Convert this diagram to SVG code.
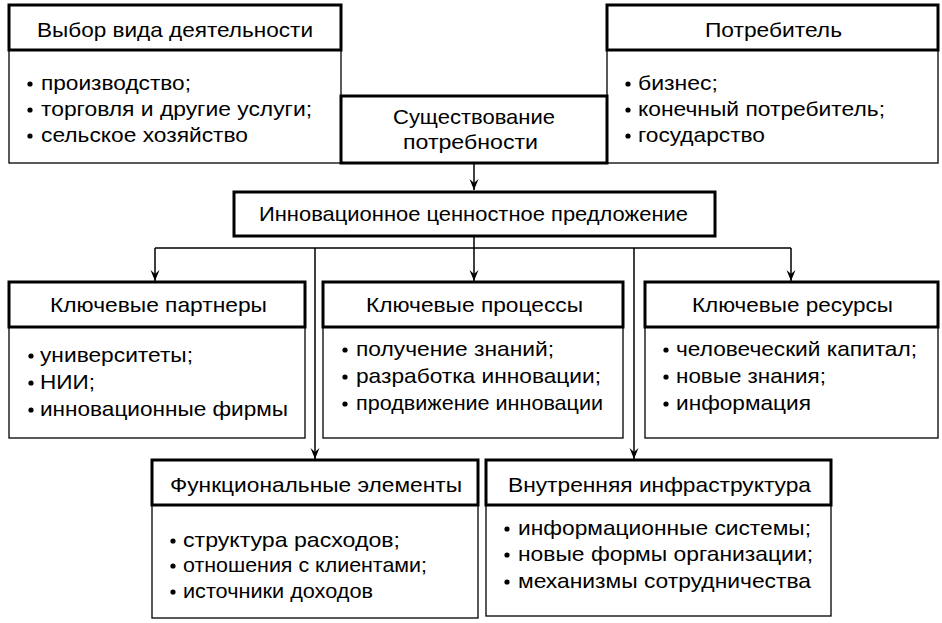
<svg xmlns="http://www.w3.org/2000/svg" width="942" height="623" viewBox="0 0 942 623">
<defs>
<style>
.hd{fill:#fff;stroke:#000;stroke-width:3}
.bd{fill:#fff;stroke:#000;stroke-width:1.3}
.t{font-family:"Liberation Sans",Arial,sans-serif;font-size:21px;fill:#000}
.ln{fill:none;stroke:#000;stroke-width:1.5}
.dot{fill:#000}
</style>
<marker id="ar" markerWidth="12" markerHeight="10" refX="11" refY="5" orient="auto" markerUnits="userSpaceOnUse" viewBox="0 0 12 10">
<path d="M0,0.5 L11,5 L0,9.5 L4,5 Z" fill="#000"/>
</marker>
</defs>
<rect width="942" height="623" fill="#fff"/>

<g id="connectors">
<path class="ln" d="M474,163 V190" marker-end="url(#ar)"/>
<path class="ln" d="M474,237 V248 M155,248 H791"/>
<path class="ln" d="M155,248 V281" marker-end="url(#ar)"/>
<path class="ln" d="M474,248 V281" marker-end="url(#ar)"/>
<path class="ln" d="M791,248 V281" marker-end="url(#ar)"/>
<path class="ln" d="M315,248 V459" marker-end="url(#ar)"/>
<path class="ln" d="M634,248 V459" marker-end="url(#ar)"/>
</g>

<g id="vybor">
<rect class="bd" x="9" y="50" width="332" height="113"/>
<rect class="hd" x="9" y="5" width="332" height="45"/>
<text class="t" x="37" y="37" textLength="276" lengthAdjust="spacingAndGlyphs">Выбор вида деятельности</text>
<circle class="dot" cx="30" cy="84" r="2.6"/><text class="t" x="41" y="90" textLength="150" lengthAdjust="spacingAndGlyphs">производство;</text>
<circle class="dot" cx="30" cy="110" r="2.6"/><text class="t" x="41" y="116" textLength="271" lengthAdjust="spacingAndGlyphs">торговля и другие услуги;</text>
<circle class="dot" cx="30" cy="136" r="2.6"/><text class="t" x="41" y="142" textLength="207" lengthAdjust="spacingAndGlyphs">сельское хозяйство</text>
</g>

<g id="potrebitel">
<rect class="bd" x="607" y="50" width="331" height="113"/>
<rect class="hd" x="607" y="5" width="331" height="45"/>
<text class="t" x="705" y="37" textLength="137" lengthAdjust="spacingAndGlyphs">Потребитель</text>
<circle class="dot" cx="628" cy="84" r="2.6"/><text class="t" x="638" y="90" textLength="80" lengthAdjust="spacingAndGlyphs">бизнес;</text>
<circle class="dot" cx="628" cy="110" r="2.6"/><text class="t" x="638" y="116" textLength="247" lengthAdjust="spacingAndGlyphs">конечный потребитель;</text>
<circle class="dot" cx="628" cy="136" r="2.6"/><text class="t" x="638" y="142" textLength="127" lengthAdjust="spacingAndGlyphs">государство</text>
</g>

<g id="sushchestvovanie">
<rect class="hd" x="341" y="96" width="266" height="67"/>
<text class="t" x="393" y="124" textLength="162" lengthAdjust="spacingAndGlyphs">Существование</text>
<text class="t" x="403" y="149" textLength="135" lengthAdjust="spacingAndGlyphs">потребности</text>
</g>

<g id="innovacionnoe">
<rect class="hd" x="234" y="192" width="481" height="44"/>
<text class="t" x="259" y="221" textLength="429" lengthAdjust="spacingAndGlyphs">Инновационное ценностное предложение</text>
</g>

<g id="partnery">
<rect class="bd" x="9" y="327" width="296" height="111"/>
<rect class="hd" x="9" y="282" width="296" height="45"/>
<text class="t" x="50" y="312" textLength="217" lengthAdjust="spacingAndGlyphs">Ключевые партнеры</text>
<circle class="dot" cx="31" cy="356" r="2.6"/><text class="t" x="40" y="362" textLength="153" lengthAdjust="spacingAndGlyphs">университеты;</text>
<circle class="dot" cx="31" cy="383" r="2.6"/><text class="t" x="40" y="389" textLength="55" lengthAdjust="spacingAndGlyphs">НИИ;</text>
<circle class="dot" cx="31" cy="410" r="2.6"/><text class="t" x="40" y="416" textLength="248" lengthAdjust="spacingAndGlyphs">инновационные фирмы</text>
</g>

<g id="processy">
<rect class="bd" x="323" y="327" width="300" height="111"/>
<rect class="hd" x="323" y="282" width="300" height="45"/>
<text class="t" x="366" y="312" textLength="217" lengthAdjust="spacingAndGlyphs">Ключевые процессы</text>
<circle class="dot" cx="345" cy="350" r="2.6"/><text class="t" x="356" y="356" textLength="198" lengthAdjust="spacingAndGlyphs">получение знаний;</text>
<circle class="dot" cx="345" cy="377" r="2.6"/><text class="t" x="356" y="383" textLength="245" lengthAdjust="spacingAndGlyphs">разработка инновации;</text>
<circle class="dot" cx="345" cy="404" r="2.6"/><text class="t" x="356" y="410" textLength="247" lengthAdjust="spacingAndGlyphs">продвижение инновации</text>
</g>

<g id="resursy">
<rect class="bd" x="645" y="327" width="293" height="111"/>
<rect class="hd" x="645" y="282" width="293" height="45"/>
<text class="t" x="692" y="312" textLength="201" lengthAdjust="spacingAndGlyphs">Ключевые ресурсы</text>
<circle class="dot" cx="666" cy="350" r="2.6"/><text class="t" x="676" y="356" textLength="241" lengthAdjust="spacingAndGlyphs">человеческий капитал;</text>
<circle class="dot" cx="666" cy="377" r="2.6"/><text class="t" x="676" y="383" textLength="150" lengthAdjust="spacingAndGlyphs">новые знания;</text>
<circle class="dot" cx="666" cy="404" r="2.6"/><text class="t" x="676" y="410" textLength="135" lengthAdjust="spacingAndGlyphs">информация</text>
</g>

<g id="funkcionalnye">
<rect class="bd" x="152" y="505" width="326" height="113"/>
<rect class="hd" x="152" y="460" width="326" height="45"/>
<text class="t" x="170" y="492" textLength="292" lengthAdjust="spacingAndGlyphs">Функциональные элементы</text>
<circle class="dot" cx="173" cy="541" r="2.6"/><text class="t" x="183" y="547" textLength="217" lengthAdjust="spacingAndGlyphs">структура расходов;</text>
<circle class="dot" cx="173" cy="566" r="2.6"/><text class="t" x="183" y="572" textLength="244" lengthAdjust="spacingAndGlyphs">отношения с клиентами;</text>
<circle class="dot" cx="173" cy="592" r="2.6"/><text class="t" x="183" y="598" textLength="190" lengthAdjust="spacingAndGlyphs">источники доходов</text>
</g>

<g id="vnutrennyaya">
<rect class="bd" x="486" y="505" width="345" height="111"/>
<rect class="hd" x="486" y="460" width="345" height="45"/>
<text class="t" x="508" y="492" textLength="303" lengthAdjust="spacingAndGlyphs">Внутренняя инфраструктура</text>
<circle class="dot" cx="507" cy="529" r="2.6"/><text class="t" x="518" y="535" textLength="293" lengthAdjust="spacingAndGlyphs">информационные системы;</text>
<circle class="dot" cx="507" cy="555" r="2.6"/><text class="t" x="518" y="561" textLength="295" lengthAdjust="spacingAndGlyphs">новые формы организации;</text>
<circle class="dot" cx="507" cy="582" r="2.6"/><text class="t" x="518" y="588" textLength="293" lengthAdjust="spacingAndGlyphs">механизмы сотрудничества</text>
</g>
</svg>
